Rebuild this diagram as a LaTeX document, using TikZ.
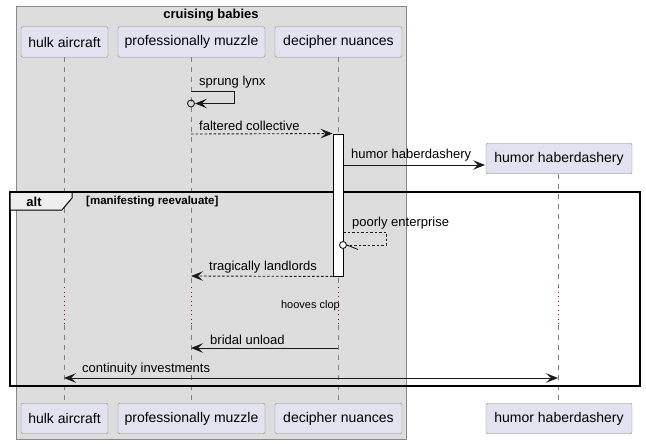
\documentclass[tikz,border=0pt]{standalone}
\usepackage{fontspec}
\setmainfont{Liberation Sans}
\usetikzlibrary{arrows.meta}
\definecolor{boxgrey}{HTML}{DDDDDD}
\definecolor{boxline}{HTML}{888888}
\definecolor{partfill}{HTML}{E2E2F0}
\definecolor{partline}{HTML}{8A8A8A}
\definecolor{lifegrey}{HTML}{7F7F7F}
\definecolor{delayred}{HTML}{A80036}
\definecolor{tabfill}{HTML}{EEEEEE}
\tikzset{
  part/.style={draw=partline, fill=partfill, rounded corners=2pt, minimum height=30.5pt, inner sep=0pt, font=\fontsize{14}{16}\selectfont},
  lifeline/.style={draw=lifegrey, dash pattern=on 5pt off 5pt, line width=0.6pt},
  delayline/.style={draw=delayred, dash pattern=on 1pt off 3.5pt, line width=0.8pt},
  msg/.style={draw=black!90, line width=0.9pt, ->},
  dmsg/.style={draw=black!90, line width=0.9pt, ->, dash pattern=on 2.5pt off 2pt},
  lbl/.style={anchor=west, inner sep=0pt, font=\fontsize{13}{15}\selectfont},
  actbar/.style={draw=black, fill=white, line width=0.9pt, minimum width=10pt, inner sep=0pt},
}
\begin{document}
\begin{tikzpicture}[x=1pt,y=-1pt,>={Stealth[length=12pt,width=9.5pt,inset=5pt]}]
\useasboundingbox (0,0) rectangle (646,444);
% group box
\draw[boxline, fill=boxgrey, line width=0.7pt] (16,6) rectangle (406,439);
\node[font=\bfseries\fontsize{13}{15}\selectfont, inner sep=0pt] (title) at (211,15) {cruising babies};
% participants
\node[part, minimum width=87pt] (p1t) at (64.5,42) {hulk aircraft};
\node[part, minimum width=147pt] (p2t) at (191.5,42) {professionally muzzle};
\node[part, minimum width=127pt] (p3t) at (338.5,42) {decipher nuances};
\node[part, minimum width=146pt] (p4t) at (559,158.5) {humor haberdashery};
\node[part, minimum width=87pt] (p1b) at (64.5,418.5) {hulk aircraft};
\node[part, minimum width=147pt] (p2b) at (191.5,418.5) {professionally muzzle};
\node[part, minimum width=127pt] (p3b) at (338.5,418.5) {decipher nuances};
\node[part, minimum width=146pt] (p4b) at (559,418.5) {humor haberdashery};
% delay coordinates
\coordinate (d1a) at (64,287);  \coordinate (d1b) at (64,325);
\coordinate (d2a) at (191,287); \coordinate (d2b) at (191,325);
\coordinate (d3a) at (338,287); \coordinate (d3b) at (338,325);
\coordinate (d4a) at (558,287); \coordinate (d4b) at (558,325);
% lifelines
\draw[lifeline] (64,57.5) -- (d1a); \draw[delayline] (d1a) -- (d1b); \draw[lifeline] (d1b) -- (64,403);
\draw[lifeline] (191,57.5) -- (d2a); \draw[delayline] (d2a) -- (d2b); \draw[lifeline] (d2b) -- (191,403);
\draw[lifeline] (338,57.5) -- (d3a); \draw[delayline] (d3a) -- (d3b); \draw[lifeline] (d3b) -- (338,403);
\draw[lifeline] (558,174) -- (d4a); \draw[delayline] (d4a) -- (d4b); \draw[lifeline] (d4b) -- (558,403);
% alt frame
\draw[black, line width=1.6pt] (10,192) rectangle (640,386);
\draw[black, fill=tabfill, line width=1pt] (10,192) -- (72,192) -- (72,198) -- (62,210) -- (10,210) -- cycle;
\draw[black, line width=1.6pt] (10,192) -- (72,192);
\node[font=\bfseries\fontsize{13}{15}\selectfont, inner sep=0pt] (alttag) at (34,202) {alt};
\node[font=\bfseries\fontsize{11.5}{13}\selectfont, anchor=west, inner sep=0pt] (altcond) at (86,202) {[manifesting reevaluate]};
% activation
\node[actbar, minimum height=142pt] (act) at (338,205) {};
% sprung lynx (self)
\coordinate (s1a) at (191,91); \coordinate (s1b) at (234,91); \coordinate (s1c) at (234,103.5); \coordinate (s1d) at (195,103.5);
\draw[msg] (s1a) -- (s1b) -- (s1c) -- (s1d);
\node[draw=black!90, line width=0.9pt, circle, inner sep=0pt, minimum size=7pt] (c1) at (191,103.5) {};
\node[lbl] (l1) at (199,82) {sprung lynx};
% faltered collective
\coordinate (m2s) at (191,134);
\draw[dmsg] (m2s) -- (act.north west);
\node[lbl] (l2) at (199,125.5) {faltered collective};
% humor haberdashery creation
\coordinate (m3s) at (343,165); \coordinate (m3e) at (485,165);
\draw[msg] (m3s) -- (m3e);
\node[lbl] (l3) at (351,155.5) {humor haberdashery};
% poorly enterprise
\coordinate (s2a) at (343,232); \coordinate (s2b) at (386,232); \coordinate (s2c) at (386,245); \coordinate (s2d) at (346.5,245);
\draw[black!90, line width=0.9pt, dash pattern=on 2.5pt off 2pt] (s2a) -- (s2b) -- (s2c) -- (s2d);
\node[draw=black!90, fill=white, line width=0.9pt, circle, inner sep=0pt, minimum size=7pt] (c2) at (343,245) {};
\coordinate (h2) at (358,249.5);
\draw[black!90, line width=0.9pt] (c2.east) -- (h2);
\node[lbl] (l4) at (352,223.5) {poorly enterprise};
% tragically landlords
\coordinate (m5e) at (191,276);
\draw[dmsg] (act.south west) -- (m5e);
\node[lbl] (l5) at (209,267) {tragically landlords};
% delay text
\node[anchor=east, inner sep=0pt, font=\fontsize{11}{13}\selectfont] (dl) at (340,306) {hooves clop};
% bridal unload
\coordinate (m6s) at (338,348); \coordinate (m6e) at (191,348);
\draw[msg] (m6s) -- (m6e);
\node[lbl] (l6) at (210,339.5) {bridal unload};
% continuity investments
\coordinate (m7s) at (64,378); \coordinate (m7e) at (558,378);
\draw[msg, <->] (m7s) -- (m7e);
\node[lbl] (l7) at (82,369.5) {continuity investments};
\end{tikzpicture}
\end{document}
